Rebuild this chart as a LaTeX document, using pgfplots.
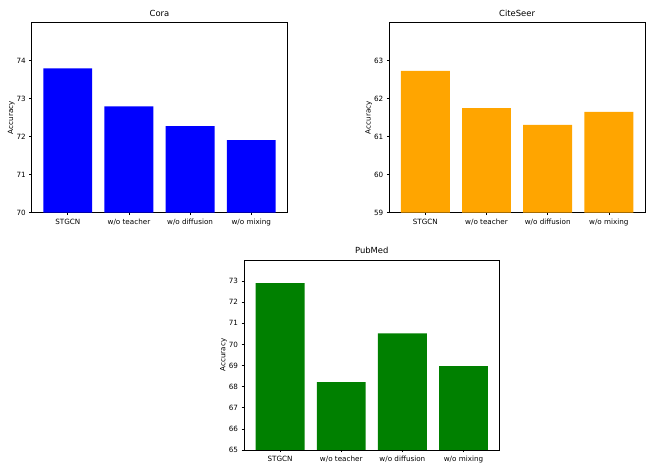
\documentclass[border=0pt]{standalone}
\usepackage{pgfplots}
\pgfplotsset{compat=1.18}
\usepackage{fontspec}
\setmainfont{DejaVu Sans}
\definecolor{mplblue}{RGB}{0,0,255}
\definecolor{mplorange}{RGB}{255,165,0}
\definecolor{mplgreen}{RGB}{0,128,0}
\pgfplotsset{
  abl/.style={
    scale only axis,
    width=255.6pt, height=190pt,
    anchor=south west,
    xmin=-0.59, xmax=3.59,
    xtick={0,1,2,3},
    xticklabels={STGCN, w/o teacher, w/o diffusion, w/o mixing},
    ytick distance=1,
    tick align=outside,
    tick pos=left,
    major tick length=2.5pt,
    axis line style={line width=0.6pt},
    every tick/.style={black, line width=0.6pt},
    tick label style={font=\fontsize{7.2}{8}\selectfont},
    /pgf/number format/assume math mode=true,
    ylabel={Accuracy},
    ylabel style={font=\fontsize{7.2}{8}\selectfont, yshift=-5pt},
    title style={font=\fontsize{8.4}{10}\selectfont, yshift=-3pt},
    ybar, bar width=0.8, bar shift=0pt,
    enlarge x limits=false,
  }
}
\begin{document}
\begin{tikzpicture}[x=1pt,y=1pt]
\path[use as bounding box] (0,0) rectangle (652,470);
\begin{axis}[abl, at={(31.7pt,257.3pt)}, title={Cora}, ymin=70, ymax=75, ytick={70,71,72,73,74}]
\addplot[fill=mplblue, draw=none] coordinates {(0,73.80) (1,72.80) (2,72.28) (3,71.91)};
\end{axis}
\begin{axis}[abl, at={(389.3pt,257.3pt)}, title={CiteSeer}, ymin=59, ymax=64, ytick={59,60,61,62,63}]
\addplot[fill=mplorange, draw=none] coordinates {(0,62.73) (1,61.75) (2,61.31) (3,61.65)};
\end{axis}
\begin{axis}[abl, at={(244pt,20pt)}, title={PubMed}, ymin=65, ymax=74, ytick={65,66,67,68,69,70,71,72,73}, height=190pt]
\addplot[fill=mplgreen, draw=none] coordinates {(0,72.90) (1,68.21) (2,70.53) (3,68.97)};
\end{axis}
\end{tikzpicture}
\end{document}
